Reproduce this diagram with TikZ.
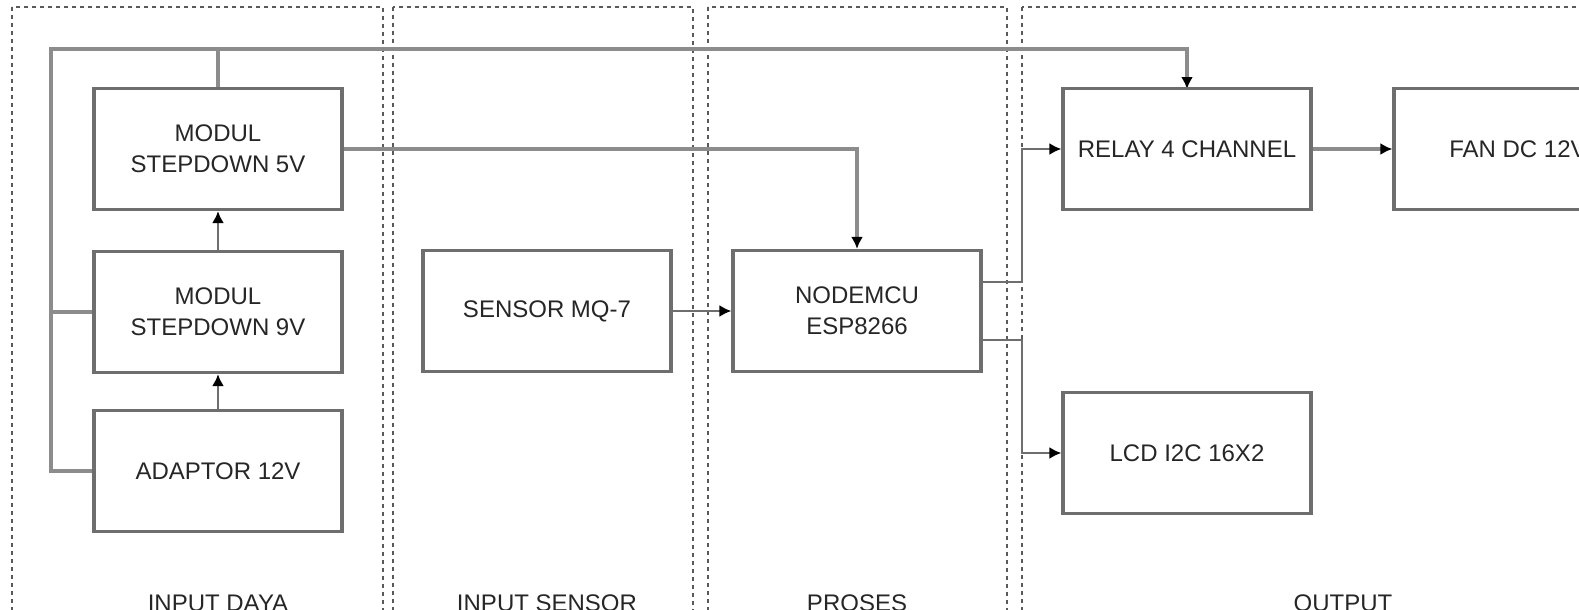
\documentclass[tikz,border=0pt]{standalone}
\usepackage{fontspec}
\setmainfont{Liberation Sans}
\usetikzlibrary{arrows.meta}
\definecolor{boxgray}{HTML}{6E6E6E}
\definecolor{wiregray}{HTML}{8C8C8C}
\definecolor{zonegray}{HTML}{5A5A5A}
\tikzset{block/.style={draw=boxgray, line width=3.2pt, fill=white, minimum width=248pt, minimum height=121pt, align=center, text=black!85, font=\fontsize{24}{31}\selectfont}}
\tikzset{wire/.style={draw=wiregray, line width=3.4pt}}
\tikzset{thinwire/.style={draw=boxgray, line width=2.3pt}}
\tikzset{arrow/.style={-{Latex[length=12pt, width=12pt, black]}}}
\tikzset{zone/.style={draw=zonegray, line width=1.6pt, dash pattern=on 4pt off 4pt}}
\tikzset{zonelabel/.style={text=black!85, font=\fontsize{24}{28}\selectfont}}

\begin{document}
\begin{tikzpicture}[x=1pt, y=-1pt]
    \useasboundingbox (0, 0) rectangle (1579, 610);
    \draw[zone] (12, 7) rectangle (383, 660);
    \draw[zone] (393, 7) rectangle (693, 660);
    \draw[zone] (708, 7) rectangle (1007, 660);
    \draw[zone] (1022, 7) rectangle (1650, 660);
    \node[zonelabel] (lbldaya) at (218, 603) {INPUT DAYA};
    \node[zonelabel] (lblsensor) at (547, 603) {INPUT SENSOR};
    \node[zonelabel] (lblproses) at (857, 603) {PROSES};
    \node[zonelabel] (lbloutput) at (1343, 603) {OUTPUT};
    \coordinate (busL) at (51, 49);
    \coordinate (split) at (1022, 311);
    \draw[wire, arrow] (218, 471) ++(-123, 0) -| (busL) -| (1187, 89);
    \node[block] (sd5) at (218, 149) {MODUL\\STEPDOWN 5V};
    \node[block] (sd9) at (218, 312) {MODUL\\STEPDOWN 9V};
    \node[block] (adp) at (218, 471) {ADAPTOR 12V};
    \node[block] (sensor) at (547, 311) {SENSOR MQ-7};
    \node[block] (mcu) at (857, 311) {NODEMCU\\ESP8266};
    \node[block] (relay) at (1187, 149) {RELAY 4 CHANNEL};
    \node[block] (fan) at (1518, 149) {FAN DC 12V};
    \node[block] (lcd) at (1187, 453) {LCD I2C 16X2};
    \draw[wire] (sd9.west) -- (sd9.west -| busL);
    \draw[wire] (sd5.north) -- (sd5.north |- busL);
    \draw[thinwire, arrow] (adp.north) -- (sd9.south);
    \draw[thinwire, arrow] (sd9.north) -- (sd5.south);
    \draw[wire, arrow] (sd5.east) -| (mcu.north);
    \draw[thinwire, arrow] (sensor.east) -- (mcu.west);
    \draw[thinwire, arrow] ([yshift=29pt]mcu.east) -- ([yshift=29pt]mcu.east -| split) |- (relay.west);
    \draw[thinwire, arrow] ([yshift=-29pt]mcu.east) -- ([yshift=-29pt]mcu.east -| split) |- (lcd.west);
    \draw[wire, arrow] (relay.east) -- (fan.west);
\end{tikzpicture}
\end{document}
